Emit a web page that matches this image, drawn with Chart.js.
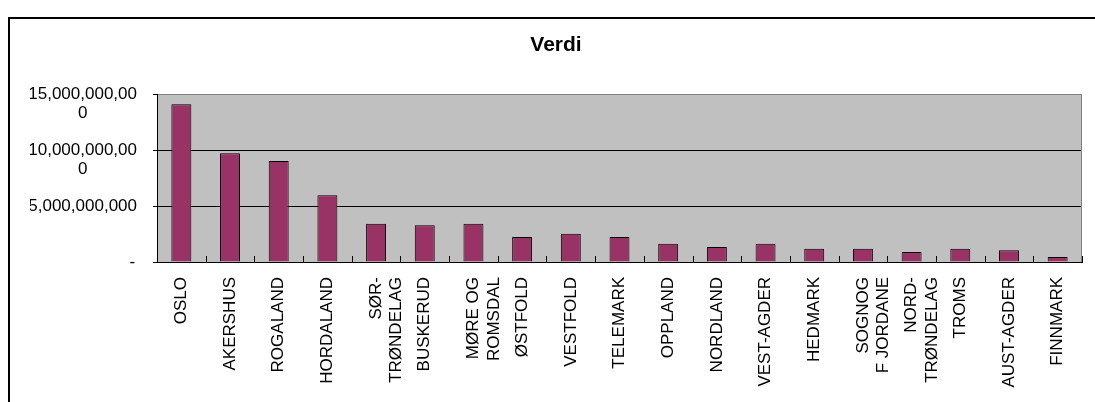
<!DOCTYPE html>
<html>
<head>
<meta charset="utf-8">
<script src="https://cdn.jsdelivr.net/npm/chart.js@4"></script>
<style>
  html, body { margin: 0; padding: 0; background: #fff; overflow: hidden; }
  body { width: 1095px; height: 402px; position: relative; }
  #frame {
    position: absolute; left: 8px; top: 17px; width: 1200px; height: 500px;
    border-left: 2px solid #000; border-top: 2px solid #000;
  }
  #chart { position: absolute; left: 0; top: 0; }
</style>
</head>
<body>
<div id="frame"></div>
<canvas id="chart" width="1095" height="402"></canvas>
<script>
// Chart data
const counties = [
  "OSLO", "AKERSHUS", "ROGALAND", "HORDALAND", ["SØR-", "TRØNDELAG"],
  "BUSKERUD", ["MØRE OG", "ROMSDAL"], "ØSTFOLD", "VESTFOLD", "TELEMARK",
  "OPPLAND", "NORDLAND", "VEST-AGDER", "HEDMARK", ["SOGNOG", "F JORDANE"],
  ["NORD-", "TRØNDELAG"], "TROMS", "AUST-AGDER", "FINNMARK"
];
const verdi = [
  14.1e9, 9.73e9, 9.02e9, 5.96e9, 3.43e9,
  3.28e9, 3.43e9, 2.23e9, 2.53e9, 2.23e9,
  1.64e9, 1.34e9, 1.64e9, 1.19e9, 1.19e9,
  0.89e9, 1.19e9, 1.04e9, 0.45e9
];
const yTickValues = [0, 5e9, 10e9, 15e9];
const yTickLabels = [
  "-".padStart(22),
  "5,000,000,000",
  ["", "10,000,000,00", "0"],
  ["", "15,000,000,00", "0"]
];

const FONT = "'Liberation Sans', Arial, sans-serif";

// Grey plot area with grey right edge and small inside tick marks on the x axis
const plotArea = {
  id: "plotArea",
  beforeDraw: (chart) => {
    const { ctx, chartArea: a } = chart;
    ctx.save();
    ctx.fillStyle = "#C0C0C0";
    ctx.fillRect(a.left, a.top, a.right - a.left, a.bottom - a.top);
    ctx.restore();
  },
  afterDatasetsDraw: (chart) => {
    const { ctx, chartArea: a } = chart;
    const x = chart.scales.x;
    const step = x.getPixelForValue(1) - x.getPixelForValue(0);
    ctx.save();
    ctx.strokeStyle = "#808080";
    ctx.lineWidth = 1;
    ctx.beginPath();
    ctx.moveTo(a.right - 0.5, a.top);
    ctx.lineTo(a.right - 0.5, a.bottom);
    ctx.stroke();
    ctx.strokeStyle = "#000";
    ctx.beginPath();
    for (let i = 1; i <= counties.length; i++) {
      const px = Math.round(x.getPixelForValue(i) - step / 2) + 0.5;
      ctx.moveTo(px, a.bottom - 6);
      ctx.lineTo(px, a.bottom);
    }
    ctx.stroke();
    ctx.restore();
  },
};

new Chart(document.getElementById("chart").getContext("2d"), {
  type: "bar",
  data: {
    labels: counties,
    datasets: [
      {
        label: "Verdi",
        data: verdi,
        backgroundColor: "#993366",
        borderColor: "#000",
        borderWidth: 1,
        categoryPercentage: 1,
        barPercentage: 0.41,
      },
    ],
  },
  options: {
    responsive: false,
    animation: false,
    layout: { padding: { top: 17, right: 13, bottom: 0, left: 30 } },
    plugins: {
      legend: { display: false },
      tooltip: { enabled: false },
      title: {
        display: true,
        text: "Verdi",
        color: "#000",
        font: { family: FONT, size: 21, weight: "bold" },
        padding: { top: 16, bottom: 36 },
      },
    },
    scales: {
      x: {
        grid: { display: false, drawTicks: false },
        border: { display: true, color: "#000", width: 1 },
        afterFit: (scale) => { scale.height = 140; },
        ticks: {
          autoSkip: false,
          minRotation: 90,
          maxRotation: 90,
          padding: 15,
          color: "#000",
          font: { family: FONT, size: 17 },
        },
      },
      y: {
        min: 0,
        max: 15e9,
        afterFit: (scale) => { scale.width = 127; },
        afterBuildTicks: (scale) => {
          scale.ticks = yTickValues.map((v) => ({ value: v }));
        },
        grid: {
          color: (ctx) => (ctx.tick && ctx.tick.value === 15e9 ? "#808080" : "#000"),
          tickColor: "#000",
          tickLength: 4,
          lineWidth: 1,
        },
        border: { display: true, color: "#000", width: 1 },
        ticks: {
          autoSkip: false,
          crossAlign: "center",
          padding: 16,
          color: "#000",
          font: { family: FONT, size: 17, lineHeight: 1.1 },
          callback: (value) => {
            const i = yTickValues.indexOf(value);
            return i >= 0 ? yTickLabels[i] : "";
          },
        },
      },
    },
  },
  plugins: [plotArea],
});
</script>
</body>
</html>
